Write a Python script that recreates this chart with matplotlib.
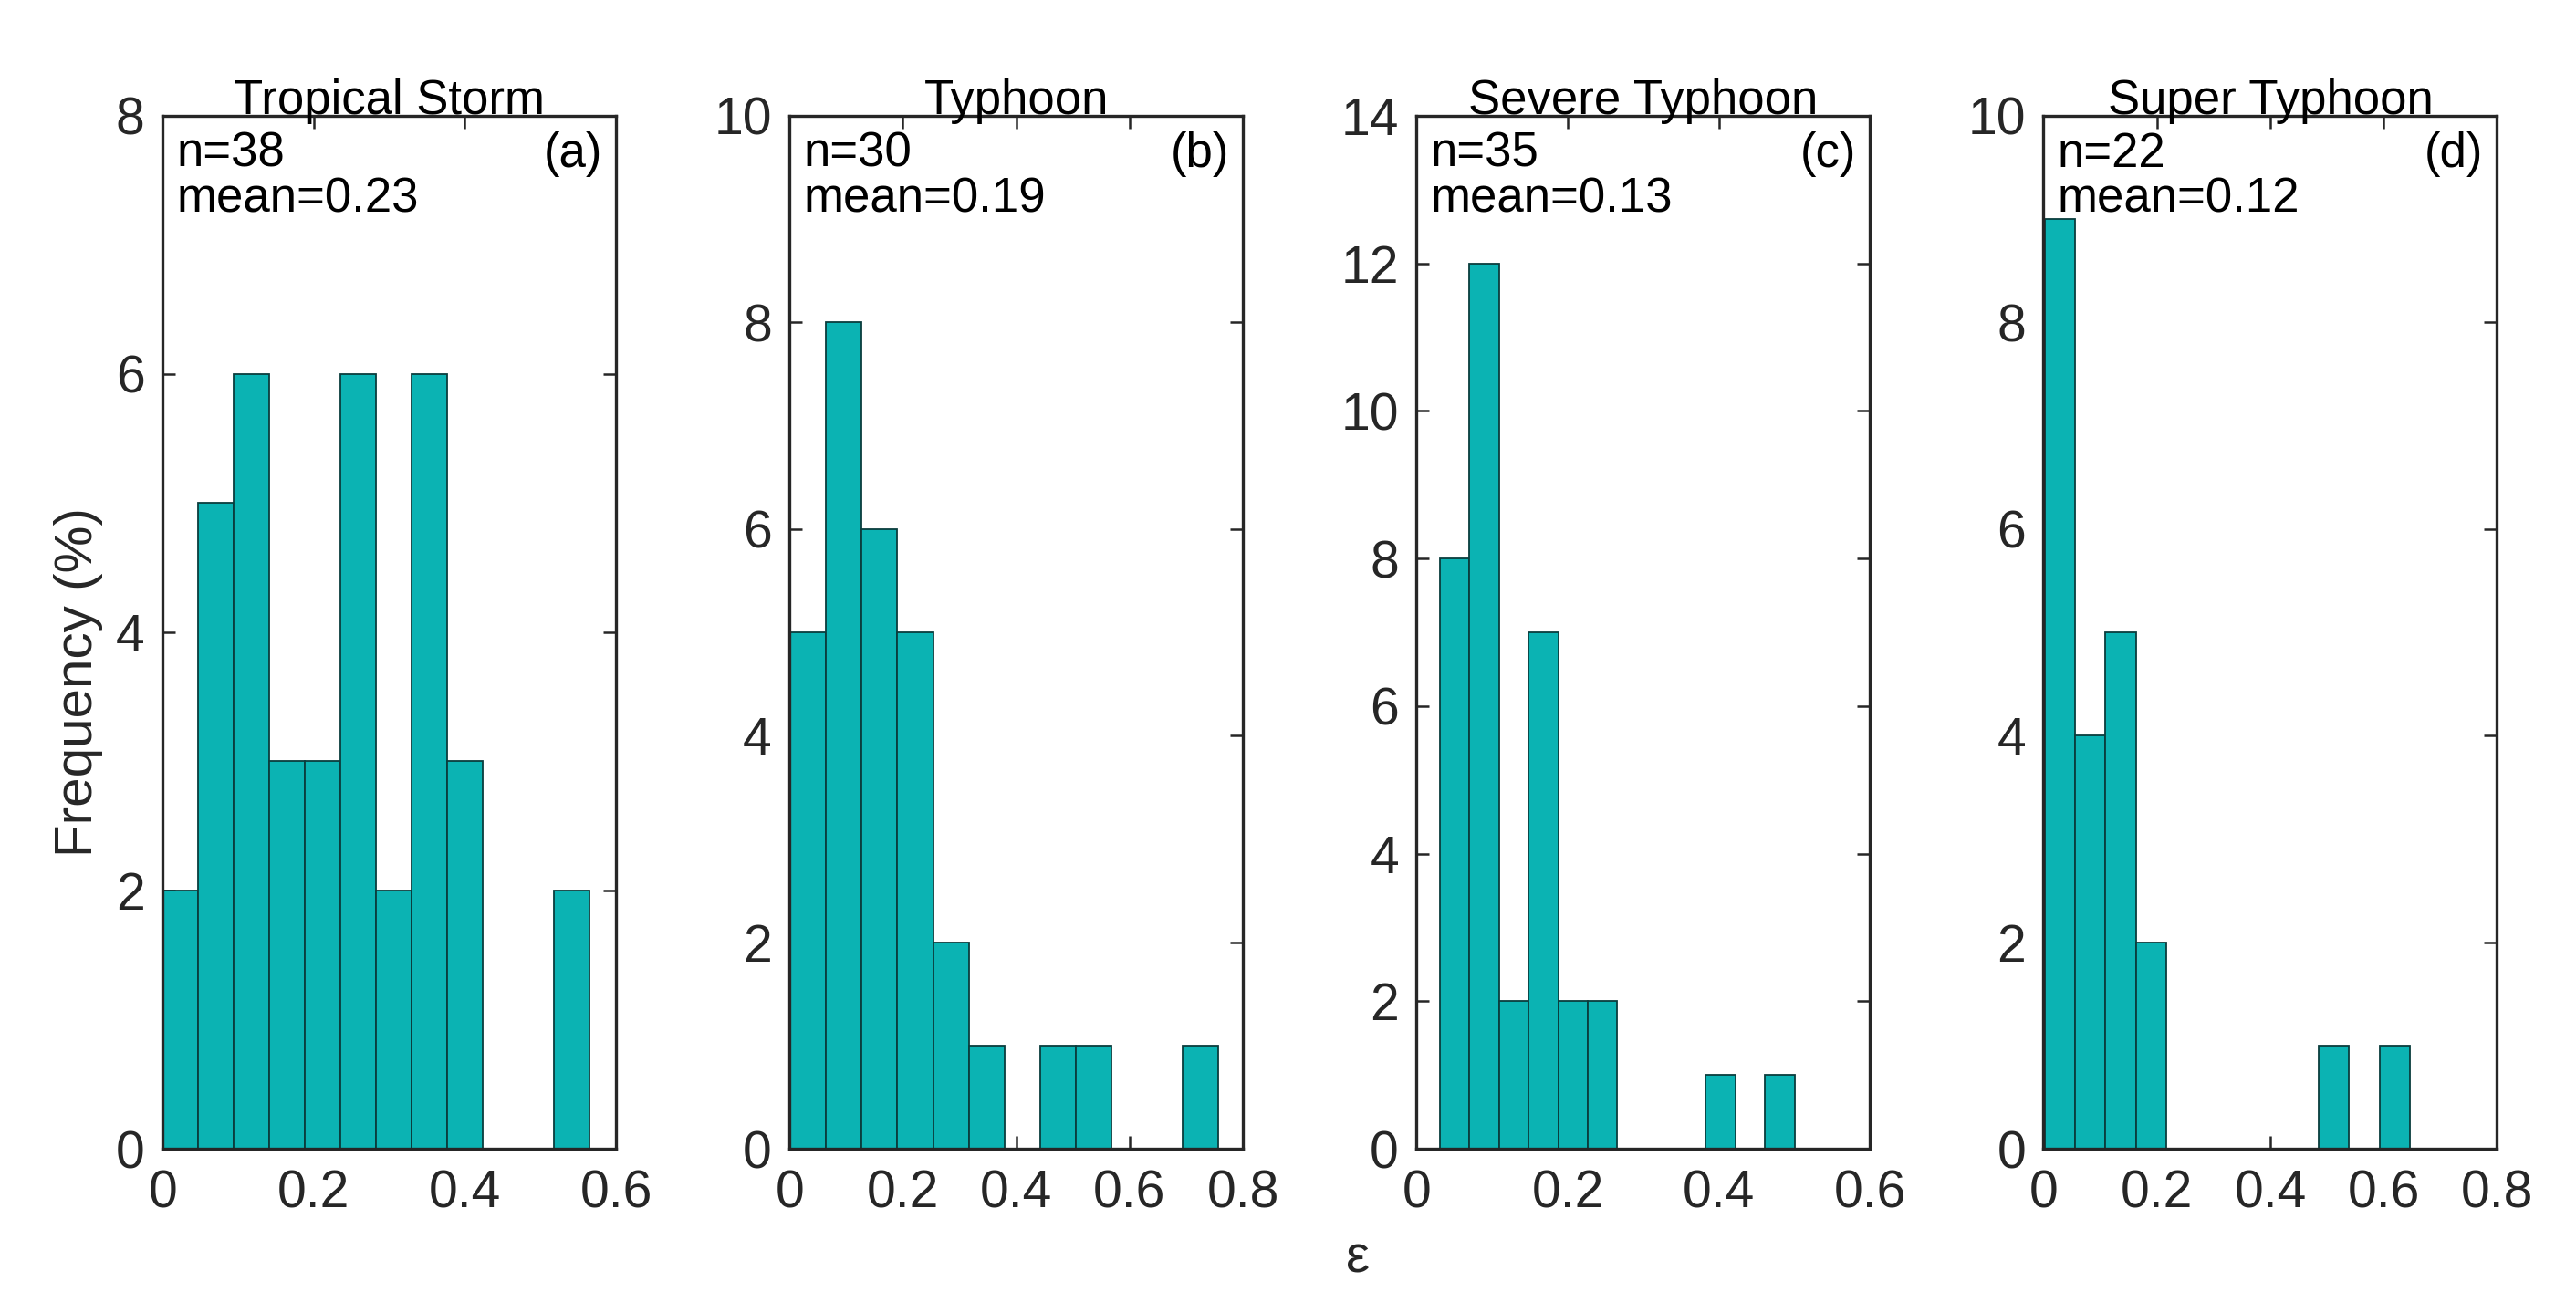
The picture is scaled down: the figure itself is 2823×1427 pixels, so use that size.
import numpy as np
import matplotlib
matplotlib.use("Agg")
import matplotlib.pyplot as plt
from matplotlib.ticker import FuncFormatter

plt.rcParams["font.family"] = ["Liberation Sans", "DejaVu Sans"]

# ── Data (bin counts) ─────────────────────────────────────────────────────────
TITLES = ["Tropical Storm", "Typhoon", "Severe Typhoon", "Super Typhoon"]
TAGS = ["(a)", "(b)", "(c)", "(d)"]
N_CASES = [38, 30, 35, 22]
MEANS = [0.23, 0.19, 0.13, 0.12]

counts_a = [2, 5, 6, 3, 3, 6, 2, 6, 3, 0, 0, 2]
counts_b = [5, 8, 6, 5, 2, 1, 0, 1, 1, 0, 0, 1]
counts_c = [8, 12, 2, 7, 2, 2, 0, 0, 0, 1, 0, 1]
counts_d = [9, 4, 5, 2, 0, 0, 0, 0, 0, 1, 0, 1]
COUNTS = [counts_a, counts_b, counts_c, counts_d]

BIN_START = [0.0, 0.002, 0.031, 0.002]
BIN_WIDTH = [0.0471, 0.0628, 0.0391, 0.0537]

XMAX = [0.6, 0.8, 0.6, 0.8]
YMAX = [8, 10, 14, 10]

# ── Style ─────────────────────────────────────────────────────────────────────
TEAL = "#0bb3b3"
EDGE = "#0a3d3d"
INK = "#262626"

fig = plt.figure(figsize=(28.23, 14.27), dpi=100)

left0, step, width = 0.0631, 0.2434, 0.176
bottom, height = 0.1177, 0.7934

fmt = FuncFormatter(lambda v, _: f"{v:g}")

for i in range(4):
    ax = fig.add_axes([left0 + i * step, bottom, width, height])
    edges = BIN_START[i] + BIN_WIDTH[i] * np.arange(len(COUNTS[i]) + 1)
    ax.bar(edges[:-1], COUNTS[i], width=BIN_WIDTH[i], align="edge",
           color=TEAL, edgecolor=EDGE, linewidth=1.3, zorder=2)

    ax.set_xlim(0, XMAX[i])
    ax.set_ylim(0, YMAX[i])
    ax.set_xticks(np.arange(0, XMAX[i] + 1e-9, 0.2))
    ax.set_yticks(np.arange(0, YMAX[i] + 1, 2))
    ax.xaxis.set_major_formatter(fmt)
    ax.yaxis.set_major_formatter(fmt)
    ax.tick_params(direction="in", top=True, right=True, length=10,
                   width=1.8, color=INK, labelcolor=INK, labelsize=41)
    ax.tick_params(axis="x", pad=16)
    ax.tick_params(axis="y", pad=14)
    for sp in ax.spines.values():
        sp.set_linewidth(2.4)
        sp.set_color(INK)
        sp.set_zorder(3)

    ax.set_title(TITLES[i], fontsize=38, color="black", pad=1)
    ax.text(0.03, 0.9505, f"n={N_CASES[i]}", transform=ax.transAxes,
            fontsize=38, va="baseline", ha="left", zorder=4)
    ax.text(0.03, 0.9064, f"mean={MEANS[i]:.2f}", transform=ax.transAxes,
            fontsize=38, va="baseline", ha="left", zorder=4)
    ax.text(0.97, 0.9505, TAGS[i], transform=ax.transAxes,
            fontsize=38, va="baseline", ha="right", zorder=4)

fig.text(0.0305, 0.476, "Frequency (%)", rotation=90, fontsize=42,
         ha="center", va="center", color=INK)
fig.text(0.527, 0.033, "ε", fontsize=42, ha="center", va="center", color=INK)

fig.savefig("out.png", dpi=100, facecolor="white")
